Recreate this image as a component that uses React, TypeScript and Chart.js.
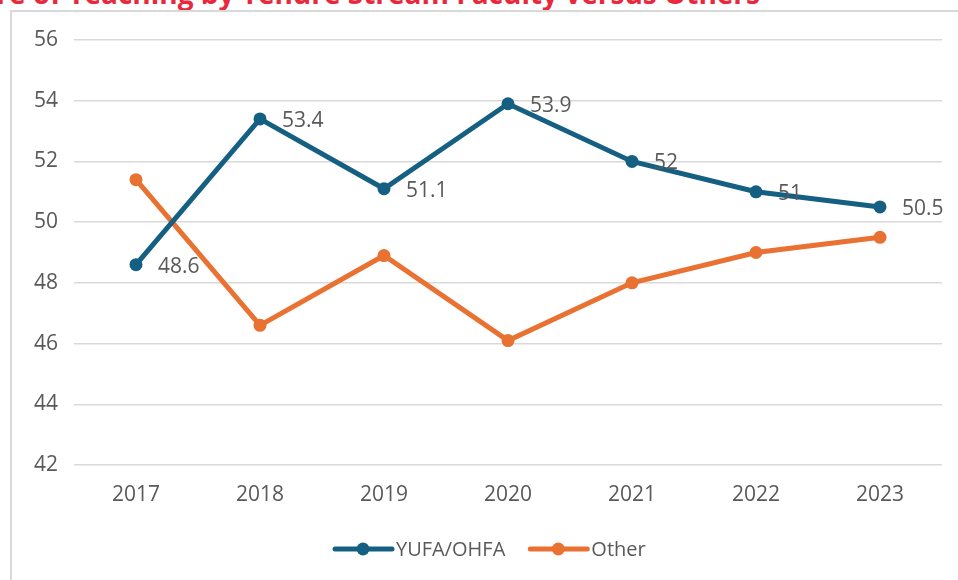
import React, { useEffect, useRef } from "react";
import { Chart, registerables } from "chart.js";

Chart.register(...registerables);

const years = ["2017", "2018", "2019", "2020", "2021", "2022", "2023"];
const yufaValues = [48.6, 53.4, 51.1, 53.9, 52, 51, 50.5];
const otherValues = [51.4, 46.6, 48.9, 46.1, 48, 49, 49.5];
const seriesNames = ["YUFA/OHFA", "Other"];
const titleText = "Share of Teaching by Tenure Stream Faculty versus Others";

const BLUE = "#156082";
const ORANGE = "#E97132";
const TEXT = "#595959";
const FONT = "'Open Sans', sans-serif";

const labelPlugin = {
  id: "valueLabels",
  afterDatasetsDraw(chart: any) {
    const ctx = chart.ctx;
    const meta = chart.getDatasetMeta(0);
    ctx.save();
    ctx.font = `21px ${FONT}`;
    ctx.fillStyle = TEXT;
    ctx.textAlign = "left";
    ctx.textBaseline = "middle";
    meta.data.forEach((pt: any, i: number) => {
      const v = chart.data.datasets[0].data[i];
      ctx.fillText(String(v), pt.x + 22, pt.y + 2);
    });
    ctx.restore();
  },
};

const legendPlugin = {
  id: "lineLegend",
  afterDraw(chart: any) {
    const ctx = chart.ctx;
    ctx.save();
    ctx.font = `20px ${FONT}`;
    ctx.textBaseline = "middle";
    ctx.textAlign = "left";
    let x = 335;
    const y = 549;
    chart.data.datasets.forEach((ds: any) => {
      ctx.strokeStyle = ds.borderColor;
      ctx.lineWidth = 5;
      ctx.lineCap = "round";
      ctx.beginPath();
      ctx.moveTo(x, y);
      ctx.lineTo(x + 57, y);
      ctx.stroke();
      ctx.fillStyle = ds.borderColor;
      ctx.beginPath();
      ctx.arc(x + 28, y, 6.5, 0, Math.PI * 2);
      ctx.fill();
      ctx.fillStyle = TEXT;
      ctx.fillText(ds.label, x + 61, y + 1);
      x += 61 + ctx.measureText(ds.label).width + 25;
    });
    ctx.restore();
  },
};

export default function App() {
  const ref = useRef<HTMLCanvasElement | null>(null);

  useEffect(() => {
    if (!ref.current) return;
    const chart = new Chart(ref.current, {
      type: "line",
      data: {
        labels: years,
        datasets: [
          {
            label: seriesNames[0],
            data: yufaValues,
            borderColor: BLUE,
            backgroundColor: BLUE,
            borderWidth: 5,
            pointRadius: 6.5,
            pointBackgroundColor: BLUE,
            pointBorderWidth: 0,
            tension: 0,
          },
          {
            label: seriesNames[1],
            data: otherValues,
            borderColor: ORANGE,
            backgroundColor: ORANGE,
            borderWidth: 5,
            pointRadius: 6.5,
            pointBackgroundColor: ORANGE,
            pointBorderWidth: 0,
            tension: 0,
          },
        ],
      },
      options: {
        animation: false,
        responsive: false,
        layout: { padding: { top: 40, right: 16, bottom: 0, left: 0 } },
        plugins: {
          legend: { display: false },
          tooltip: { enabled: false },
          title: { display: false },
        },
        scales: {
          x: {
            offset: true,
            grid: { display: false, drawTicks: false },
            border: { display: false },
            ticks: {
              color: TEXT,
              font: { family: FONT, size: 21 },
              padding: 17,
              maxRotation: 0,
            },
            afterFit: (s: any) => {
              s.height = 115;
            },
          },
          y: {
            min: 42,
            max: 56,
            grid: { color: "#d9d9d9", lineWidth: 1.5, drawTicks: false },
            border: { display: false },
            ticks: {
              stepSize: 2,
              color: TEXT,
              font: { family: FONT, size: 21 },
              padding: 16,
            },
            afterFit: (s: any) => {
              s.width = 74;
            },
          },
        },
      },
      plugins: [labelPlugin, legendPlugin],
    });
    return () => chart.destroy();
  }, []);

  return (
    <div
      style={{
        position: "fixed",
        left: 0,
        top: 0,
        width: 958,
        height: 580,
        overflow: "hidden",
        background: "#fff",
      }}
    >
      <div
        style={{
          position: "absolute",
          right: 198,
          top: -21,
          whiteSpace: "nowrap",
          font: `bold 28px ${FONT}`,
          lineHeight: "28px",
          color: "#E8283C",
        }}
      >
        {titleText}
      </div>
      <div
        style={{
          position: "absolute",
          left: 10,
          top: 10,
          width: 1000,
          height: 1000,
          borderLeft: "2px solid #d9d9d9",
          borderTop: "2px solid #d9d9d9",
        }}
      />
      <canvas
        ref={ref}
        width={958}
        height={580}
        style={{ position: "absolute", left: 0, top: 0, width: 958, height: 580 }}
      />
    </div>
  );
}
